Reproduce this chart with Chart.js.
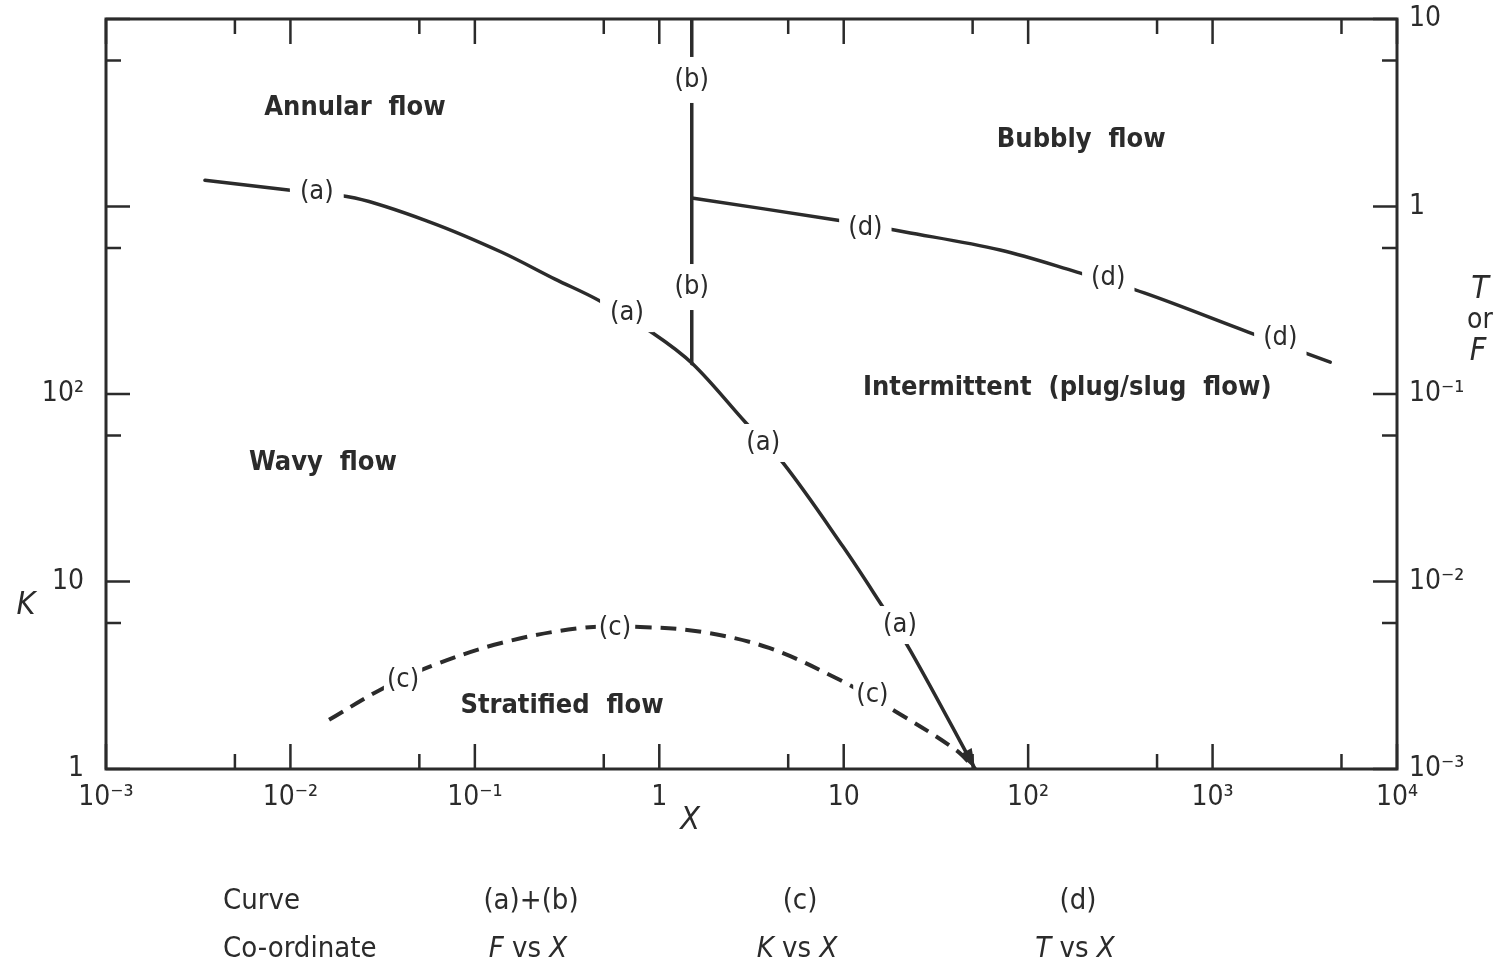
<!DOCTYPE html>
<html>
<head>
<meta charset="utf-8">
<title>Flow regime map</title>
<script src="https://cdn.jsdelivr.net/npm/chart.js@4.4.1/dist/chart.umd.min.js"></script>
<style>
  html, body { margin: 0; padding: 0; background: #fff; }
  #wrap { width: 1501px; height: 967px; }
</style>
</head>
<body>
<div id="wrap"><canvas id="flowMap"></canvas></div>
<script>
var FONT = '"DejaVu Sans Condensed", "Liberation Sans Narrow", "DejaVu Sans", sans-serif';
var INK = '#2b2b2b';

// Curve (a): F vs X
var curveA_X = [0.00344, 0.0100, 0.0224, 0.0571, 0.139, 0.272, 0.466, 0.925, 1.52, 2.92, 4.69, 9.93, 15.4, 22.9, 51.6];
var curveA_F = [1.38, 1.22, 1.11, 0.826, 0.572, 0.41, 0.317, 0.211, 0.1445, 0.0709, 0.0429, 0.0153, 0.00797, 0.00431, 0.001];

// Curve (b): F vs X (vertical boundary)
var curveB_X = [1.5, 1.5];
var curveB_F = [10, 0.145];

// Curve (c): K vs X
var curveC_X = [0.0162, 0.0306, 0.0565, 0.139, 0.377, 0.787, 1.71, 3.94, 9.55, 19.7, 40.7, 51.6];
var curveC_K = [1.83, 2.64, 3.50, 4.70, 5.65, 5.72, 5.38, 4.42, 2.98, 1.99, 1.26, 1.0];

// Curve (d): T vs X
var curveD_X = [1.5, 9.1, 21.5, 70.5, 184, 426, 1560, 4345];
var curveD_T = [1.11, 0.847, 0.731, 0.586, 0.447, 0.346, 0.214, 0.148];

// Ticks
var xMajor = [1e-3, 1e-2, 1e-1, 1, 10, 1e2, 1e3, 1e4];
var xLabels = ['10⁻³', '10⁻²', '10⁻¹', '1', '10', '10²', '10³', '10⁴'];
var xMinor = [5e-3, 5e-2, 5e-1, 5, 50, 500, 5000];
var kMajor = [1, 10, 100, 1000, 10000];
var kLabeled = [1, 10, 100];
var kLabels = ['1', '10', '10²'];
var kMinor = [6, 60, 600, 6000];
var fMajor = [1e-3, 1e-2, 1e-1, 1, 10];
var fLabels = ['10⁻³', '10⁻²', '10⁻¹', '1', '10'];
var fMinor = [6e-3, 6e-2, 0.6, 6];

// Curve tags sitting in gaps of the lines
var tagsA_X = [0.0139, 0.668, 3.66, 20.2];
var tagsA_F = [1.19, 0.270, 0.0548, 0.00586];
var tagsB_X = [1.5, 1.5];
var tagsB_F = [4.73, 0.372];
var tagsC_X = [0.0408, 0.575, 14.3];
var tagsC_K = [2.98, 5.65, 2.48];
var tagsD_X = [13.1, 272, 2330];
var tagsD_T = [0.767, 0.416, 0.199];

// Flow regime names
var regionNames = ['Annular  flow', 'Bubbly  flow', 'Intermittent  (plug/slug  flow)', 'Wavy  flow', 'Stratified  flow'];
var regionX = [0.0224, 194, 163, 0.0150, 0.297];
var regionF = [3.35, 2.26, 0.108, 0.0429, 0.00217];

// Key under the chart
var keyCurves = ['(a)+(b)', '(c)', '(d)'];
var keyOrdinates = ['F', 'K', 'T'];

function pts(xs, ys) {
  return xs.map(function (x, i) { return { x: x, y: ys[i] }; });
}

function lineSet(label, data, axis, extra) {
  var ds = {
    label: label,
    data: data,
    yAxisID: axis,
    borderColor: INK,
    borderWidth: 3.5,
    pointRadius: 0,
    fill: false,
    tension: 0.35,
    borderCapStyle: 'round'
  };
  for (var k in extra) ds[k] = extra[k];
  return ds;
}

// no extra room for the end labels, the frame fills the canvas
function fixBox(w, h) {
  return function (s) {
    if (w !== null) s.width = w;
    if (h !== null) s.height = h;
    s.paddingTop = 0; s.paddingBottom = 0; s.paddingLeft = 0; s.paddingRight = 0;
  };
}

function tag(ctx, text, px, py, padX, padY) {
  ctx.font = '27px ' + FONT;
  var w = ctx.measureText(text).width;
  ctx.fillStyle = '#fff';
  ctx.fillRect(px - w / 2 - padX, py - 15 - padY, w + 2 * padX, 30 + 2 * padY);
  ctx.fillStyle = INK;
  ctx.textAlign = 'center';
  ctx.textBaseline = 'middle';
  ctx.fillText(text, px, py);
}

// draws pieces like [['F', true], [' vs ', false], ['X', true]] centred on cx
function mixed(ctx, parts, cx, y, size) {
  var total = 0;
  parts.forEach(function (p) {
    ctx.font = (p[1] ? 'italic ' : '') + size + 'px ' + FONT;
    total += ctx.measureText(p[0]).width;
  });
  var x = cx - total / 2;
  ctx.textAlign = 'left';
  parts.forEach(function (p) {
    ctx.font = (p[1] ? 'italic ' : '') + size + 'px ' + FONT;
    ctx.fillText(p[0], x, y);
    x += ctx.measureText(p[0]).width;
  });
}

var mapDecor = {
  id: 'mapDecor',
  afterDatasetsDraw: function (chart) {
    var ctx = chart.ctx, sx = chart.scales.x, sk = chart.scales.yK, sr = chart.scales.yR;
    ctx.save();

    // arrow head at the end of curve (a)
    var n = curveA_X.length;
    var x1 = sx.getPixelForValue(curveA_X[n - 2]), y1 = sr.getPixelForValue(curveA_F[n - 2]);
    var x2 = sx.getPixelForValue(curveA_X[n - 1]), y2 = sr.getPixelForValue(curveA_F[n - 1]);
    var ang = Math.atan2(y2 - y1, x2 - x1);
    ctx.fillStyle = INK;
    ctx.beginPath();
    ctx.moveTo(x2, y2);
    ctx.lineTo(x2 - 20 * Math.cos(ang) + 7 * Math.sin(ang), y2 - 20 * Math.sin(ang) - 7 * Math.cos(ang));
    ctx.lineTo(x2 - 20 * Math.cos(ang) - 7 * Math.sin(ang), y2 - 20 * Math.sin(ang) + 7 * Math.cos(ang));
    ctx.closePath();
    ctx.fill();

    tagsA_X.forEach(function (v, i) { tag(ctx, '(a)', sx.getPixelForValue(v), sr.getPixelForValue(tagsA_F[i]), 10, 4); });
    tagsB_X.forEach(function (v, i) { tag(ctx, '(b)', sx.getPixelForValue(v), sr.getPixelForValue(tagsB_F[i]), 4, 8); });
    tagsC_X.forEach(function (v, i) { tag(ctx, '(c)', sx.getPixelForValue(v), sk.getPixelForValue(tagsC_K[i]), 3, 3); });
    tagsD_X.forEach(function (v, i) { tag(ctx, '(d)', sx.getPixelForValue(v), sr.getPixelForValue(tagsD_T[i]), 9, 3); });

    ctx.font = 'bold 27px ' + FONT;
    ctx.fillStyle = INK;
    ctx.textAlign = 'center';
    ctx.textBaseline = 'middle';
    regionNames.forEach(function (name, i) {
      ctx.fillText(name, sx.getPixelForValue(regionX[i]), sr.getPixelForValue(regionF[i]));
    });
    ctx.restore();
  },
  afterDraw: function (chart) {
    var ctx = chart.ctx, a = chart.chartArea;
    var sx = chart.scales.x, sk = chart.scales.yK, sr = chart.scales.yR;
    ctx.save();
    ctx.strokeStyle = INK;
    ctx.lineWidth = 3;
    ctx.strokeRect(a.left, a.top, a.right - a.left, a.bottom - a.top);

    // inward tick marks on all four sides
    ctx.lineWidth = 2.5;
    ctx.beginPath();
    function xt(vals, len) {
      vals.forEach(function (v) {
        var p = sx.getPixelForValue(v);
        ctx.moveTo(p, a.bottom); ctx.lineTo(p, a.bottom - len);
        ctx.moveTo(p, a.top); ctx.lineTo(p, a.top + len);
      });
    }
    xt(xMajor, 25); xt(xMinor, 15);
    kMajor.forEach(function (v) { var p = sk.getPixelForValue(v); ctx.moveTo(a.left, p); ctx.lineTo(a.left + 24, p); });
    kMinor.forEach(function (v) { var p = sk.getPixelForValue(v); ctx.moveTo(a.left, p); ctx.lineTo(a.left + 15, p); });
    fMajor.forEach(function (v) { var p = sr.getPixelForValue(v); ctx.moveTo(a.right, p); ctx.lineTo(a.right - 24, p); });
    fMinor.forEach(function (v) { var p = sr.getPixelForValue(v); ctx.moveTo(a.right, p); ctx.lineTo(a.right - 15, p); });
    ctx.stroke();

    // axis titles
    ctx.fillStyle = INK;
    ctx.textAlign = 'center';
    ctx.textBaseline = 'middle';
    ctx.font = 'italic 32px ' + FONT;
    ctx.fillText('X', 690, 821);
    ctx.fillText('K', 26, 606);
    ctx.fillText('T', 1480, 290);
    ctx.fillText('F', 1478, 352);
    ctx.font = '28px ' + FONT;
    ctx.fillText('or', 1480, 321);

    // key
    ctx.font = '29px ' + FONT;
    ctx.textAlign = 'left';
    ctx.textBaseline = 'alphabetic';
    ctx.fillText('Curve', 223, 909);
    ctx.fillText('Co-ordinate', 223, 957);
    var cols = [531, 800, 1078];
    ctx.textAlign = 'center';
    keyCurves.forEach(function (c, i) { ctx.fillText(c, cols[i], 909); });
    keyOrdinates.forEach(function (c, i) {
      mixed(ctx, [[c, true], [' vs ', false], ['X', true]], cols[i] - 3, 957, 29);
    });
    ctx.restore();
  }
};

var tickFont = { family: FONT, size: 28 };

new Chart(document.getElementById('flowMap'), {
  type: 'line',
  data: {
    datasets: [
      lineSet('(a)', pts(curveA_X, curveA_F), 'yR', {}),
      lineSet('(b)', pts(curveB_X, curveB_F), 'yR', { tension: 0 }),
      lineSet('(c)', pts(curveC_X, curveC_K), 'yK', { borderDash: [16, 9], borderCapStyle: 'butt', borderWidth: 4 }),
      lineSet('(d)', pts(curveD_X, curveD_T), 'yR', {})
    ]
  },
  options: {
    responsive: true,
    maintainAspectRatio: false,
    animation: false,
    layout: { padding: { top: 19, left: 0, right: 0, bottom: 0 }, autoPadding: false },
    plugins: { legend: { display: false }, tooltip: { enabled: false } },
    scales: {
      x: {
        type: 'logarithmic', position: 'bottom', min: 1e-3, max: 1e4,
        grid: { display: false, drawTicks: false }, border: { display: false },
        afterBuildTicks: function (s) { s.ticks = xMajor.map(function (v) { return { value: v }; }); },
        afterFit: fixBox(null, 198),
        ticks: {
          autoSkip: false, maxRotation: 0, padding: 12, color: INK, font: tickFont,
          callback: function (v, i) { return xLabels[i]; }
        }
      },
      yK: {
        type: 'logarithmic', position: 'left', min: 1, max: 1e4,
        grid: { display: false, drawTicks: false }, border: { display: false },
        afterBuildTicks: function (s) { s.ticks = kLabeled.map(function (v) { return { value: v }; }); },
        afterFit: fixBox(106, null),
        ticks: {
          autoSkip: false, padding: 22, color: INK, font: tickFont,
          callback: function (v, i) { return kLabels[i]; }
        }
      },
      yR: {
        type: 'logarithmic', position: 'right', min: 1e-3, max: 10,
        grid: { display: false, drawTicks: false }, border: { display: false },
        afterBuildTicks: function (s) { s.ticks = fMajor.map(function (v) { return { value: v }; }); },
        afterFit: fixBox(104, null),
        ticks: {
          autoSkip: false, padding: 12, color: INK, font: tickFont,
          callback: function (v, i) { return fLabels[i]; }
        }
      }
    }
  },
  plugins: [mapDecor]
});
</script>
</body>
</html>
